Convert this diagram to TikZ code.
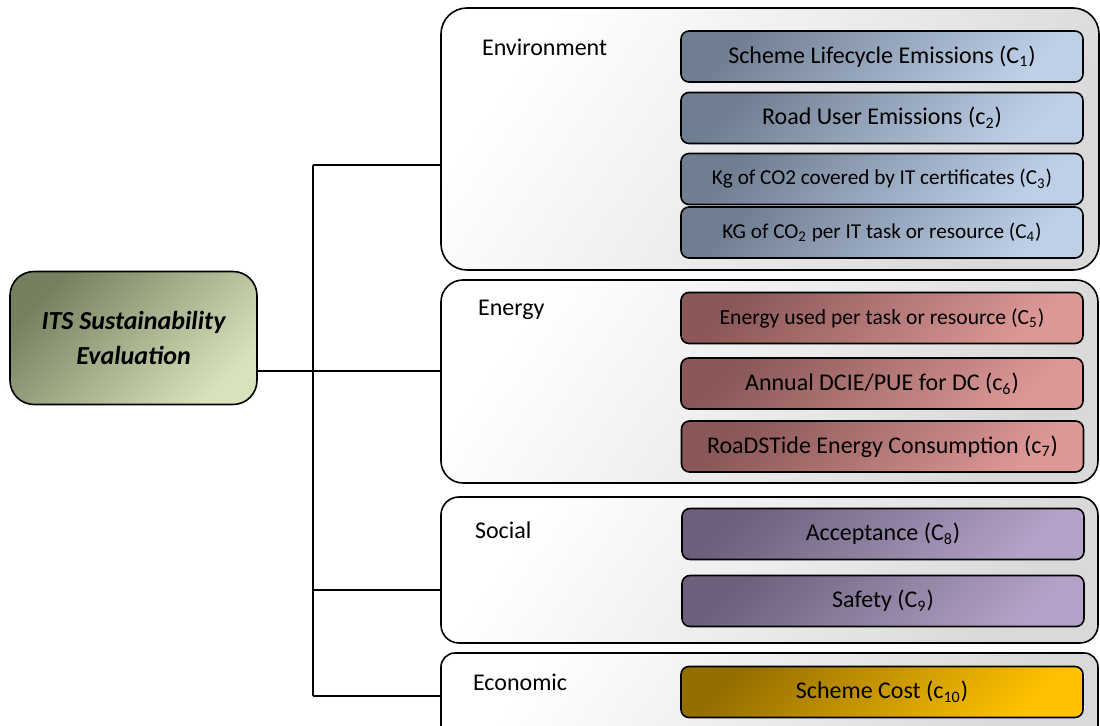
\documentclass[tikz,border=0pt]{standalone}
\usepackage{fontspec}
\setmainfont{Carlito}
\usetikzlibrary{fit}
\definecolor{rootdark}{RGB}{118,128,96}
\definecolor{rootlight}{RGB}{216,227,187}
\definecolor{envdark}{RGB}{112,126,146}
\definecolor{envlight}{RGB}{190,208,232}
\definecolor{engdark}{RGB}{138,88,88}
\definecolor{englight}{RGB}{220,152,150}
\definecolor{socdark}{RGB}{108,96,124}
\definecolor{soclight}{RGB}{180,162,200}
\definecolor{ecodark}{RGB}{148,110,0}
\definecolor{ecolight}{RGB}{255,194,0}

\begin{document}
\begin{tikzpicture}[x=0.5pt,y=-0.5pt,
    grp/.style={draw,line width=0.8pt,inner sep=0pt,top color=white,bottom color=black!15,shading angle=55},
    crit/.style 2 args={draw,line width=0.8pt,rounded corners=4pt,minimum width=201pt,minimum height=25.5pt,
        inner sep=0pt,font=\fontsize{12}{14}\selectfont,top color=#1,bottom color=#2,shading angle=45},
    lbl/.style={anchor=base west,font=\fontsize{12}{14}\selectfont},
    wire/.style={line width=1pt}]
    \clip (0,0) rectangle (1100,726);
    % Root box
    \node[draw,line width=0.8pt,rounded corners=12pt,minimum width=123.5pt,minimum height=66.5pt,
        top color=rootdark,bottom color=rootlight,shading angle=45,align=center,
        font=\fontsize{13}{17.5}\selectfont\bfseries\itshape] (its) at (133.5,338) {ITS Sustainability\\Evaluation};
    % Group boxes
    \node[grp,rounded corners=13pt,fit={(441,8) (1099,270)}] (env) {};
    \node[grp,rounded corners=11pt,fit={(441,280) (1098,483)}] (eng) {};
    \node[grp,rounded corners=9pt,fit={(441,497) (1098,643)}] (soc) {};
    \node[grp,rounded corners=7pt,fit={(441,653) (1098,745)}] (eco) {};
    \node[lbl] (envlbl) at (475,56) {Environment};
    \node[lbl] (englbl) at (471,316) {Energy};
    \node[lbl] (soclbl) at (468,539) {Social};
    \node[lbl] (ecolbl) at (466,691) {Economic};
    % Criteria
    \node[crit={envdark}{envlight}] (c1) at (882,56.5) {Scheme Lifecycle Emissions (C\textsubscript{1})};
    \node[crit={envdark}{envlight}] (c2) at (882,118) {Road User Emissions (c\textsubscript{2})};
    \node[crit={envdark}{envlight},font=\fontsize{10.6}{12}\selectfont] (c3) at (882,179) {Kg of CO2 covered by IT certificates (C\textsubscript{3})};
    \node[crit={envdark}{envlight},font=\fontsize{10.6}{12}\selectfont] (c4) at (882,232.5) {KG of CO\textsubscript{2} per IT task or resource (C\textsubscript{4})};
    \node[crit={engdark}{englight},font=\fontsize{10.8}{12}\selectfont] (c5) at (882,318) {Energy used per task or resource (C\textsubscript{5})};
    \node[crit={engdark}{englight}] (c6) at (882,383.5) {Annual DCIE/PUE for DC (c\textsubscript{6})};
    \node[crit={engdark}{englight}] (c7) at (882.5,446.5) {RoaDSTide Energy Consumption (c\textsubscript{7})};
    \node[crit={socdark}{soclight}] (c8) at (883,534) {Acceptance (C\textsubscript{8})};
    \node[crit={socdark}{soclight}] (c9) at (883,601) {Safety (C\textsubscript{9})};
    \node[crit={ecodark}{ecolight}] (c10) at (882,692) {Scheme Cost (c\textsubscript{10})};
    % Trunk and branches
    \coordinate (t1) at (313,165);
    \coordinate (t2) at (313,371);
    \coordinate (t3) at (313,590);
    \coordinate (t4) at (313,696);
    \draw[wire] (t1) -- (t4);
    \draw[wire] (t1) -- (t1 -| env.west);
    \draw[wire] (its.east |- t2) -- (t2 -| eng.west);
    \draw[wire] (t3) -- (t3 -| soc.west);
    \draw[wire] (t4) -- (t4 -| eco.west);
\end{tikzpicture}
\end{document}
